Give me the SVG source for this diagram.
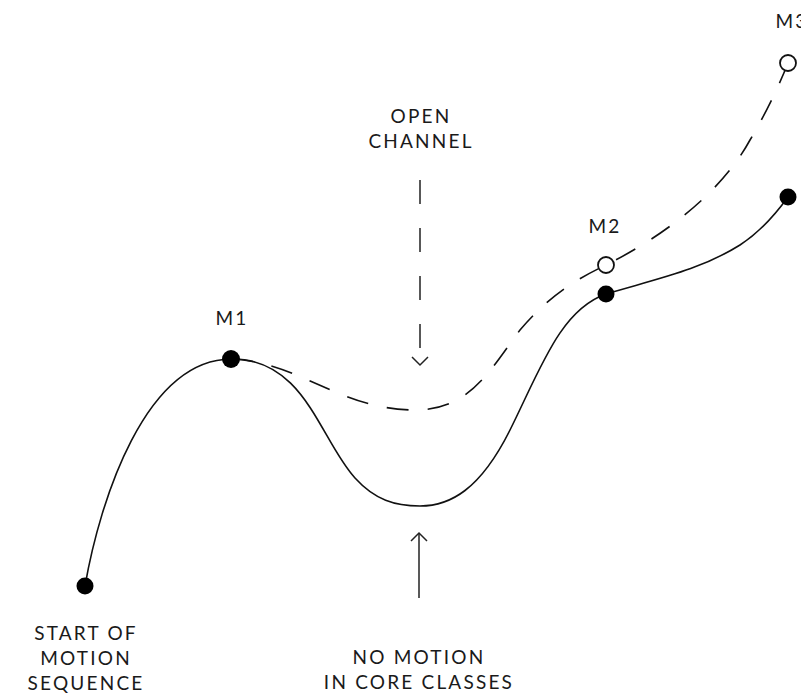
<svg xmlns="http://www.w3.org/2000/svg" width="801" height="693" viewBox="0 0 801 693">
  <defs>
    <style>
      .lbl { font-family: "Lato", "Noto Sans", "Liberation Sans", sans-serif; font-size: 19px; fill: #1a1a1a; text-anchor: middle; letter-spacing: 2.2px; }
      .solid { fill: none; stroke: #111; stroke-width: 1.6; }
      .dash { fill: none; stroke: #111; stroke-width: 1.6; stroke-dasharray: 22 19; }
      .pt { fill: #000; }
      .open { fill: #fff; stroke: #111; stroke-width: 1.8; }
      .arr { fill: none; stroke: #222; stroke-width: 1.5; }
    </style>
  </defs>
  <rect width="801" height="693" fill="#fff"/>

  <!-- connectors: motion curves and annotation arrows -->
  <g id="connectors">
    <path class="solid" d="M85,586 C100,500 145,360 231,359 C305,358 320,440 355,478 C375,500 395,506 420,506 C450,506 480,490 510,430 C540,370 560,310 606,294 C660,278 700,270 740,245 C760,232 775,215 788,197"/>
    <path class="dash" d="M231,359 C300,362 340,410 415,410 C470,410 490,370 520,330 C550,295 575,280 606,265 C660,238 720,195 750,140 C765,115 778,88 788,63"/>
    <path class="arr" d="M420,180 V364" stroke-dasharray="24 24"/>
    <path class="arr" d="M412,357 L420,365 L428,357"/>
    <path class="arr" d="M419,598 V533"/>
    <path class="arr" d="M411,541 L419,533 L427,541"/>
  </g>

  <g id="start">
    <circle class="pt" cx="85" cy="586" r="8.5"/>
    <text class="lbl" x="86" y="640">START OF</text>
    <text class="lbl" x="86" y="665">MOTION</text>
    <text class="lbl" x="86" y="690">SEQUENCE</text>
  </g>

  <g id="m1">
    <circle class="pt" cx="231" cy="359" r="9"/>
    <text class="lbl" x="232" y="325">M1</text>
  </g>

  <g id="m2">
    <circle class="pt" cx="606" cy="294" r="8.5"/>
    <circle class="open" cx="606" cy="265" r="8"/>
    <text class="lbl" x="605" y="233">M2</text>
  </g>

  <g id="m3">
    <circle class="pt" cx="788" cy="197" r="8.5"/>
    <circle class="open" cx="788" cy="63" r="8"/>
    <text class="lbl" x="792" y="28">M3</text>
  </g>

  <g id="open-channel">
    <text class="lbl" x="421" y="123">OPEN</text>
    <text class="lbl" x="421" y="148">CHANNEL</text>
  </g>

  <g id="no-motion">
    <text class="lbl" x="419" y="664">NO MOTION</text>
    <text class="lbl" x="419" y="689">IN CORE CLASSES</text>
  </g>
</svg>
